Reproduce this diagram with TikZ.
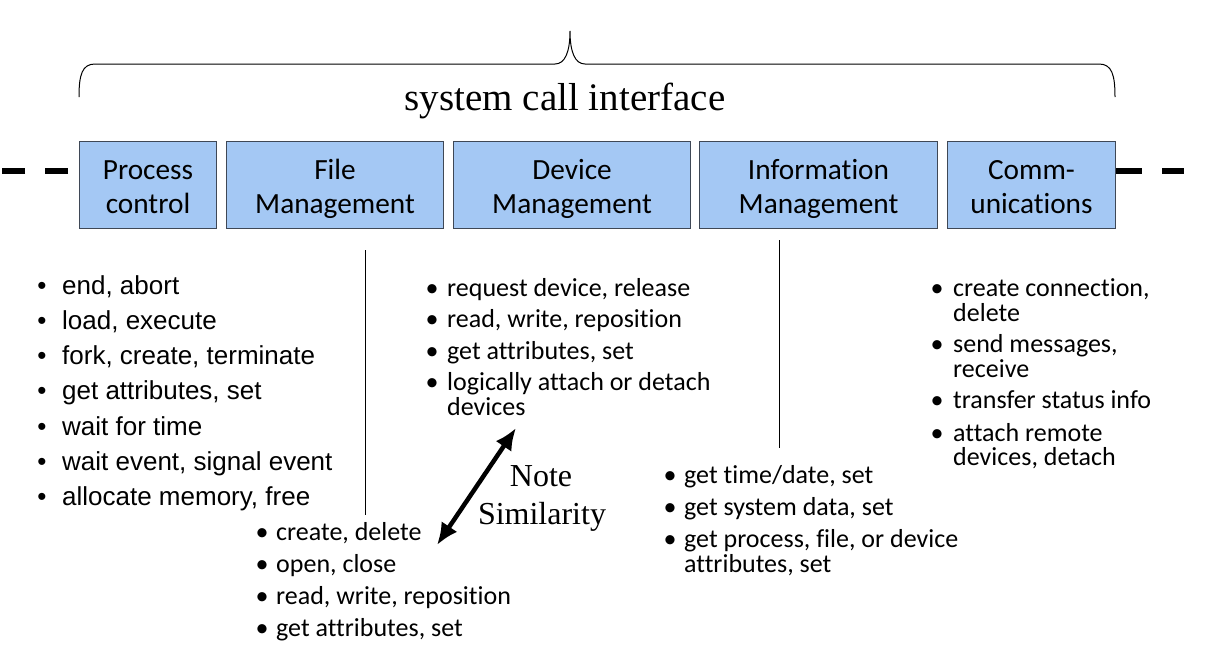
\documentclass[tikz,border=0pt]{standalone}
\usepackage{fontspec}
\setmainfont[Ligatures=NoCommon]{Carlito}
\newfontfamily\arialf{Liberation Sans}
\newfontfamily\timesf{Liberation Serif}
\usetikzlibrary{arrows.meta}
\definecolor{boxblue}{HTML}{A4C8F4}
\definecolor{boxline}{HTML}{3F4856}
\begin{document}
\begin{tikzpicture}[x=1pt,y=-1pt,
  box/.style={draw=boxline, line width=1pt, fill=boxblue, align=center, inner sep=0pt,
    minimum height=87pt, anchor=north west, font=\fontsize{29}{34}\selectfont},
  boxtext/.style={inner sep=0pt, align=center, font=\fontsize{29.3}{34}\selectfont},
  bul/.style={anchor=base, inner sep=0pt, font=\fontsize{26}{30}\selectfont},
  itx/.style={anchor=base west, inner sep=0pt, font=\fontsize{26}{30}\selectfont},
  pbul/.style={anchor=base, inner sep=0pt, font=\arialf\fontsize{26}{30}\selectfont},
  pitx/.style={anchor=base west, inner sep=0pt, font=\arialf\fontsize{26}{30}\selectfont},
  dashline/.style={line width=6.5pt, dash pattern=on 23pt off 20pt},
  sepline/.style={line width=0.9pt},
  serif/.style={inner sep=0pt, anchor=base},
]
\useasboundingbox (0,0) rectangle (1216,654);

% boxes
\node[box, minimum width=137pt] (pc) at (79,141) {};
\node[box, minimum width=217pt] (fm) at (226,141) {};
\node[box, minimum width=237pt] (dm) at (453,141) {};
\node[box, minimum width=238pt] (im) at (699,141) {};
\node[box, minimum width=168pt] (cm) at (947,141) {};
\foreach \n/\a/\b in {pc/Process/control, fm/File/Management, dm/Device/Management,
  im/Information/Management, cm/Comm-/unications}{
  \node[boxtext, anchor=base] (\n l1) at (\n.north |- 0,179) {\a};
  \node[boxtext, anchor=base] (\n l2) at (\n.north |- 0,213) {\b};
}

% dashed continuation
\coordinate (lstart) at (68,171);
\coordinate (lend) at (0,171);
\coordinate (rend) at (1184,171);
\draw[dashline] (lstart) -- (lend);
\draw[dashline, dash pattern=on 26pt off 20pt] (cm.east |- rend) -- (rend);

% brace
\coordinate (lb) at (79,97);
\coordinate (rb) at (1115,97);
\coordinate (cusp) at (570,31);
\draw[line width=1pt] (lb) .. controls (79,75) and (82,64) .. (95,64) -- (555,64)
  .. controls (565,64) and (570,52) .. (cusp)
  .. controls (570,52) and (575,64) .. (585,64) -- (1099,64)
  .. controls (1112,64) and (1115,75) .. (rb);
\node[serif, font=\timesf\fontsize{39}{44}\selectfont] (title) at (565,110) {system call interface};

% separator lines
\coordinate (s1t) at (365,250); \coordinate (s1b) at (365,515);
\coordinate (s2t) at (779,240); \coordinate (s2b) at (779,448);
\draw[sepline] (s1t) -- (s1b);
\draw[sepline] (s2t) -- (s2b);

% process control list
\foreach \y/\t [count=\i] in {294/{end, abort},329/{load, execute},364/{fork, create, terminate},
  399/{get attributes, set},435/{wait for time},470/{wait event, signal event},505/{allocate memory, free}}{
  \node[pbul] (pb\i) at (42,\y) {\textbullet};
  \node[pitx] (pt\i) at (62,\y) {\t};
}

% file list
\foreach \y/\t [count=\i] in {540/{create, delete},572/{open, close},604/{read, write, reposition},636/{get attributes, set}}{
  \node[bul] (fb\i) at (262,\y) {\textbullet};
  \node[itx] (ft\i) at (276,\y) {\t};
}

% device list
\foreach \y/\t [count=\i] in {296/{request device, release},327/{read, write, reposition},359/{get attributes, set},390/{logically attach or detach}}{
  \node[bul] (db\i) at (432,\y) {\textbullet};
  \node[itx] (dt\i) at (447,\y) {\t};
}
\node[itx] (dt4b) at (447,415) {devices};

% information list
\foreach \y/\t [count=\i] in {483/{get time/date, set},515/{get system data, set},547/{get process, file, or device}}{
  \node[bul] (ib\i) at (670,\y) {\textbullet};
  \node[itx] (it\i) at (684,\y) {\t};
}
\node[itx] (it3b) at (684,572) {attributes, set};

% communications list
\foreach \y/\t [count=\i] in {296/{create connection,},352/{send messages,},408/{transfer status info},441/{attach remote}}{
  \node[bul] (cb\i) at (937,\y) {\textbullet};
  \node[itx] (ct\i) at (953,\y) {\t};
}
\node[itx] (ct1b) at (953,321) {delete};
\node[itx] (ct2b) at (953,377) {receive};
\node[itx] (ct4b) at (953,465) {devices, detach};

% note similarity arrow
\coordinate (aS) at (437,545);
\coordinate (aN) at (516,428);
\draw[line width=4.5pt, {Latex[length=22pt,width=19pt]}-{Latex[length=22pt,width=19pt]}] (aS) -- (aN);
\node[serif, font=\timesf\fontsize{32}{38}\selectfont] (note) at (541,486) {Note};
\node[serif, font=\timesf\fontsize{32}{38}\selectfont] (sim) at (542,524) {Similarity};
\end{tikzpicture}
\end{document}
